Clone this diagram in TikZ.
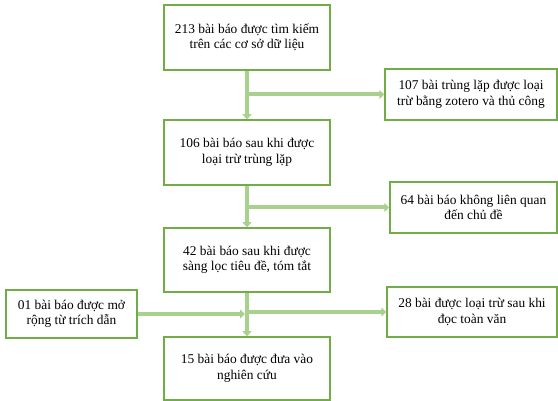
\documentclass[tikz,border=0pt]{standalone}
\usepackage{fontspec}
\setmainfont{Liberation Serif}
\usetikzlibrary{arrows.meta}
\definecolor{boxgreen}{HTML}{70AD47}
\definecolor{linkgreen}{HTML}{A9D18E}
\tikzset{
  box/.style={draw=boxgreen, line width=1.5pt, fill=white, align=center,
    font=\fontsize{13.4}{15.5}\selectfont, inner sep=0pt},
  conn/.style={draw=linkgreen, line width=4pt,
    -{Triangle[width=9pt,length=5pt]}},
}
\begin{document}
\begin{tikzpicture}[x=1pt,y=-1pt]
\useasboundingbox (0,0) rectangle (558,401);
\node[box, minimum width=166pt, minimum height=65pt] (b1) at (247,37.5)
  {213 bài báo được tìm kiếm\\trên các cơ sở dữ liệu};
\node[box, minimum width=172pt, minimum height=51pt] (b107) at (471,94.5)
  {107 bài trùng lặp được loại\\trừ bằng zotero và thủ công};
\node[box, minimum width=166pt, minimum height=65pt] (b2) at (247,152.5)
  {106 bài báo sau khi được\\loại trừ trùng lặp};
\node[box, minimum width=167pt, minimum height=51pt] (b64) at (473.5,207.5)
  {64 bài báo không liên quan\\đến chủ đề};
\node[box, minimum width=166pt, minimum height=64pt] (b3) at (247,260)
  {42 bài báo sau khi được\\sàng lọc tiêu đề, tóm tắt};
\node[box, minimum width=131pt, minimum height=48pt] (b01) at (71.5,314)
  {01 bài báo được mở\\rộng từ trích dẫn};
\node[box, minimum width=170pt, minimum height=50pt] (b28) at (472,312)
  {28 bài được loại trừ sau khi\\đọc toàn văn};
\node[box, minimum width=166pt, minimum height=63pt] (b4) at (247,368.5)
  {15 bài báo được đưa vào\\nghiên cứu};

\draw[conn] (b1) -- (b2);
\draw[conn] ([xshift=-2pt]b1.south |- b107) -- (b107);
\draw[conn] (b2) -- (b3);
\draw[conn] ([xshift=-2pt]b2.south |- b64) -- (b64);
\draw[conn] (b3) -- (b4);
\draw[conn] ([xshift=-2pt]b3.south |- b28) -- (b28);
\draw[conn, shorten >=2pt] (b01) -- (b3.south |- b01);
\end{tikzpicture}
\end{document}
